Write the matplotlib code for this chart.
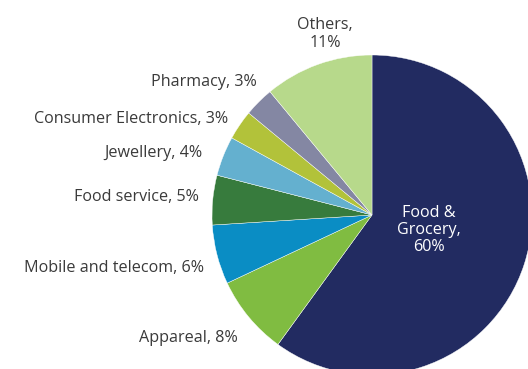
import matplotlib.pyplot as plt

# retail categories and their share of sales
categories = ['Food &\nGrocery,\n60%', 'Appareal, 8%', 'Mobile and telecom, 6%',
              'Food service, 5%', 'Jewellery, 4%', 'Consumer Electronics, 3%',
              'Pharmacy, 3%', 'Others,\n11%']
shares = [60, 8, 6, 5, 4, 3, 3, 11]
colors = ['#222b61', '#80bc41', '#0a8dc4', '#377b3d', '#64b0cf',
          '#b2c23a', '#8487a3', '#b7d98b']

plt.rcParams['font.family'] = ['Open Sans', 'DejaVu Sans']

W, H = 528, 369
fig = plt.figure(figsize=(W / 100, H / 100), dpi=100)
ax = fig.add_axes([0, 0, 1, 1])

# pie centre (px) and radius (px)
cx, cy, r = 372, 215, 160
ax.pie(shares, colors=colors, startangle=90, counterclock=False,
       center=(0, 0), radius=1,
       wedgeprops=dict(edgecolor='white', linewidth=0.3))
ax.set_xlim(-cx / r, (W - cx) / r)
ax.set_ylim((cy - H) / r, cy / r)
ax.set_aspect('auto')
ax.axis('off')

# label anchors in pixels: (x, y, ha)
label_pos = [(429, 230, 'center'), (238, 338, 'right'), (204, 268, 'right'),
             (199, 197, 'right'), (202, 153, 'right'), (228, 119, 'right'),
             (257, 82, 'right'), (325, 34, 'center')]

for i, (lab, (x, y, ha)) in enumerate(zip(categories, label_pos)):
    color = 'white' if i == 0 else '#3a3a3a'
    fig.text(x / W, 1 - y / H, lab, ha=ha, va='center', fontsize=11.6,
             color=color, linespacing=1.12, multialignment='center')

fig.savefig('out.png', dpi=100)
